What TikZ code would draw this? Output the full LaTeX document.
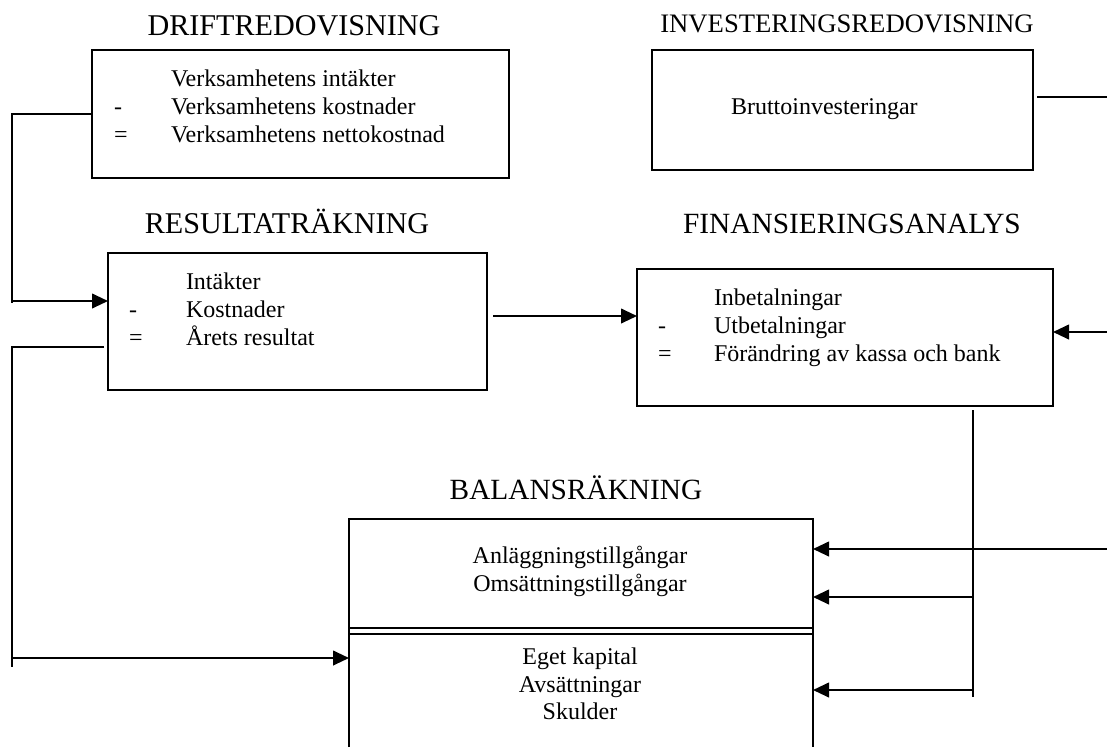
\documentclass[tikz,border=0pt]{standalone}
\usepackage{fontspec}
\setmainfont{Liberation Serif}
\usetikzlibrary{arrows.meta}
\begin{document}
\begin{tikzpicture}[x=0.75pt,y=-0.75pt,
  line width=1.5pt,
  boxstyle/.style={draw, rectangle, inner sep=0pt, outer sep=0pt, anchor=north west},
  bodytext/.style={inner sep=0pt, anchor=base west, font=\fontsize{18pt}{20pt}\selectfont},
  centertext/.style={inner sep=0pt, anchor=base, font=\fontsize{18pt}{20pt}\selectfont},
  titletext/.style={inner sep=0pt, anchor=base, font=\fontsize{22pt}{24pt}\selectfont},
  arr/.style={-{Triangle[length=12pt,width=11pt]}}
]
\useasboundingbox (0,0) rectangle (1107,747);

% titles
\node[titletext, font=\fontsize{22.6pt}{24pt}\selectfont] (tdrift) at (294,35) {DRIFTREDOVISNING};
\node[titletext, font=\fontsize{20pt}{22pt}\selectfont] (tinv) at (847,32) {INVESTERINGSREDOVISNING};
\node[titletext, font=\fontsize{22.6pt}{24pt}\selectfont] (tres) at (287,233) {RESULTATRÄKNING};
\node[titletext] (tfin) at (852,233) {FINANSIERINGSANALYS};
\node[titletext] (tbal) at (576,499) {BALANSRÄKNING};

% boxes
\node[boxstyle, minimum width=312.75pt, minimum height=96pt] (drift) at (92,50) {};
\node[boxstyle, minimum width=285.75pt, minimum height=90pt] (inv) at (652,50) {};
\node[boxstyle, minimum width=284.25pt, minimum height=102.75pt] (res) at (108,253) {};
\node[boxstyle, minimum width=312pt, minimum height=102.75pt] (fin) at (637,269) {};
\node[rectangle, inner sep=0pt, outer sep=0pt, anchor=north west, minimum width=348pt, minimum height=171pt] (bal) at (349,519) {};
\draw (bal.south west) -- (bal.north west) -- (bal.north east) -- (bal.south east);
\coordinate (d1l) at (349,628); \coordinate (d1r) at (813,628);
\coordinate (d2l) at (349,634); \coordinate (d2r) at (813,634);
\draw (d1l) -- (d1r);
\draw (d2l) -- (d2r);

% drift text
\node[bodytext] (d1) at (170,86) {Verksamhetens intäkter};
\node[bodytext] (ds2) at (113,114) {-};
\node[bodytext] (d2) at (170,114) {Verksamhetens kostnader};
\node[bodytext] (ds3) at (113,142) {=};
\node[bodytext] (d3) at (170,142) {Verksamhetens nettokostnad};

% invest text
\node[bodytext] (i1) at (730,114) {Bruttoinvesteringar};

% resultat text
\node[bodytext] (r1) at (185,289) {Intäkter};
\node[bodytext] (rs2) at (128,317) {-};
\node[bodytext] (r2) at (185,317) {Kostnader};
\node[bodytext] (rs3) at (128,345) {=};
\node[bodytext] (r3) at (185,345) {Årets resultat};

% fin text
\node[bodytext] (f1) at (713,305) {Inbetalningar};
\node[bodytext] (fs2) at (657,333) {-};
\node[bodytext] (f2) at (713,333) {Utbetalningar};
\node[bodytext] (fs3) at (657,361) {=};
\node[bodytext] (f3) at (713,361) {Förändring av kassa och bank};

% balans text
\node[centertext] (b1) at (580,563) {Anläggningstillgångar};
\node[centertext] (b2) at (580,591) {Omsättningstillgångar};
\node[centertext] (b3) at (580,664) {Eget kapital};
\node[centertext] (b4) at (580,692) {Avsättningar};
\node[centertext] (b5) at (580,719) {Skulder};

% connectors: left side
\coordinate (la) at (12,114);
\coordinate (lb) at (12,303);
\coordinate (lc) at (12,301);
\draw (drift.west) -- (la) -- (lb);
\draw[arr] (lc) -- (res.west |- lc);

\coordinate (le) at (104,347);
\coordinate (lf) at (12,347);
\coordinate (lg) at (12,667);
\coordinate (lh) at (12,658);
\draw (le) -- (lf) -- (lg);
\draw[arr] (lh) -- (bal.west |- lh);

% resultat -> fin
\coordinate (ra) at (493,316);
\draw[arr] (ra) -- (fin.west |- ra);

% investment line to right edge
\coordinate (ia) at (1037,97);
\coordinate (ib) at (1107,97);
\draw (ia) -- (ib);

% right edge -> fin
\coordinate (fa) at (1107,332);
\draw[arr] (fa) -- (fin.east |- fa);

% fin vertical and arrows to balans
\coordinate (va) at (973,410);
\coordinate (vb) at (973,697);
\draw (va) -- (vb);
\coordinate (ba) at (1107,549);
\coordinate (bb) at (973,597);
\coordinate (bc) at (973,690);
\draw[arr] (ba) -- (bal.east |- ba);
\draw[arr] (bb) -- (bal.east |- bb);
\draw[arr] (bc) -- (bal.east |- bc);
\end{tikzpicture}
\end{document}
